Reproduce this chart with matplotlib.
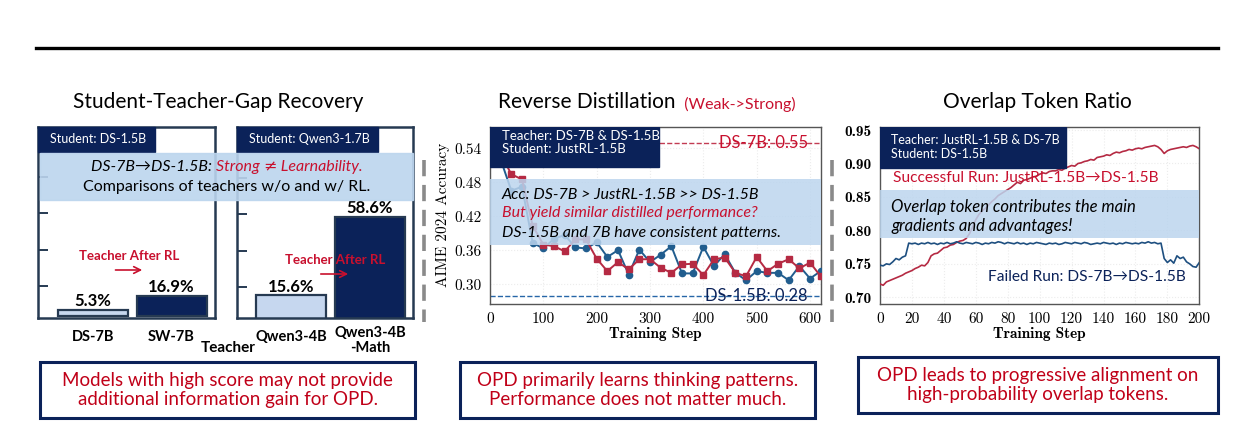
import matplotlib
matplotlib.use("Agg")
import matplotlib.pyplot as plt
from matplotlib.patches import Rectangle, FancyArrowPatch
from matplotlib.lines import Line2D
from matplotlib.text import Annotation

# ---------------- data ----------------
gap_teachers_left = ["DS-7B", "SW-7B"]
gap_values_left = [5.3, 16.9]
gap_teachers_right = ["Qwen3-4B", "Qwen3-4B\n-Math"]
gap_values_right = [15.6, 58.6]

rev_steps = [0, 20, 40, 60, 80, 100, 120, 140, 160, 180, 200, 220, 240, 260, 280, 300,
             320, 340, 360, 380, 400, 420, 440, 460, 480, 500, 520, 540, 560, 580, 600, 620]
rev_blue = [0.565, 0.52, 0.465, 0.472, 0.373, 0.363, 0.380, 0.387, 0.365, 0.363, 0.374, 0.348,
            0.360, 0.317, 0.361, 0.339, 0.352, 0.367, 0.319, 0.319, 0.366, 0.332, 0.353, 0.320,
            0.307, 0.323, 0.320, 0.320, 0.307, 0.332, 0.310, 0.323]
rev_red = [0.57, 0.53, 0.494, 0.485, 0.403, 0.370, 0.367, 0.358, 0.379, 0.379, 0.345, 0.323,
           0.339, 0.326, 0.344, 0.344, 0.329, 0.320, 0.335, 0.336, 0.316, 0.344, 0.347, 0.320,
           0.314, 0.348, 0.323, 0.336, 0.344, 0.328, 0.338, 0.314]
ds7b_ref = 0.55
ds15b_ref = 0.28

ov_steps = list(range(0, 201, 2))
ov_success = [0.720, 0.718, 0.723, 0.725, 0.727, 0.729, 0.731, 0.733, 0.736, 0.738,
              0.740, 0.743, 0.745, 0.748, 0.747, 0.752, 0.762, 0.765, 0.766, 0.770,
              0.774, 0.775, 0.778, 0.779, 0.782, 0.784, 0.785, 0.788, 0.795, 0.805,
              0.816, 0.824, 0.829, 0.833, 0.838, 0.843, 0.847, 0.852, 0.855, 0.858,
              0.861, 0.864, 0.868, 0.872, 0.870, 0.875, 0.876, 0.878, 0.880, 0.881,
              0.884, 0.886, 0.885, 0.888, 0.889, 0.889, 0.891, 0.890, 0.893, 0.895,
              0.897, 0.896, 0.900, 0.901, 0.903, 0.904, 0.906, 0.905, 0.909, 0.910,
              0.911, 0.913, 0.912, 0.915, 0.917, 0.916, 0.918, 0.919, 0.921, 0.920,
              0.922, 0.923, 0.922, 0.924, 0.925, 0.926, 0.927, 0.925, 0.921, 0.915,
              0.919, 0.921, 0.922, 0.923, 0.924, 0.925, 0.924, 0.926, 0.927, 0.925,
              0.922]
ov_failed = [0.748, 0.747, 0.750, 0.749, 0.753, 0.758, 0.756, 0.760, 0.762, 0.781,
             0.780, 0.781, 0.779, 0.781, 0.780, 0.782, 0.780, 0.781, 0.779, 0.781,
             0.780, 0.782, 0.780, 0.781, 0.783, 0.781, 0.780, 0.782, 0.781, 0.780,
             0.782, 0.781, 0.779, 0.781, 0.780, 0.782, 0.781, 0.783, 0.782, 0.780,
             0.782, 0.781, 0.780, 0.782, 0.780, 0.781, 0.779, 0.781, 0.780, 0.782,
             0.781, 0.780, 0.779, 0.781, 0.780, 0.781, 0.779, 0.780, 0.782, 0.781,
             0.780, 0.782, 0.781, 0.780, 0.782, 0.781, 0.779, 0.780, 0.781, 0.780,
             0.782, 0.781, 0.780, 0.781, 0.779, 0.781, 0.780, 0.782, 0.781, 0.780,
             0.781, 0.780, 0.782, 0.781, 0.783, 0.781, 0.782, 0.780, 0.781, 0.758,
             0.752, 0.756, 0.751, 0.762, 0.758, 0.760, 0.753, 0.750, 0.746, 0.745,
             0.752]

# ---------------- style ----------------
W, H = 1250, 440
NAVY = "#0b2259"
FRAME = "#263a52"
LIGHT = "#c6d7ef"
BAND = "#bcd5ee"
RED = "#c8102e"
BOX_RED = "#c00018"
BLUE_LINE = "#215d8e"
RED_LINE = "#b52a43"
SANS = ["Lato", "DejaVu Sans"]

plt.rcParams["font.family"] = SANS

fig = plt.figure(figsize=(W / 100, H / 100), dpi=100)


def fx(x):
    return x / W


def fy(y):
    return 1 - y / H


def add_ax(x0, y0, x1, y1):
    return fig.add_axes([fx(x0), fy(y1), (x1 - x0) / W, (y1 - y0) / H])


def chain(x, y, parts, zorder=4, **kw):
    """Draw text pieces one after another on a single line (figure pixel coords)."""
    txt, col, extra = parts[0]
    prev = fig.text(fx(x), fy(y), txt, ha="left", va="center", color=col, zorder=zorder,
                    **kw, **extra)
    for txt, col, extra in parts[1:]:
        a = Annotation(txt, xy=(1, 0), xycoords=prev, ha="left", va="bottom", color=col,
                       zorder=zorder, **kw, **extra)
        fig.add_artist(a)
        prev = a
    return prev


# top rule
fig.add_artist(Line2D([fx(36), fx(1218)], [fy(48.5), fy(48.5)], color="black", lw=2.4))

# separators
for sx in (424, 832):
    fig.add_artist(Line2D([fx(sx), fx(sx)], [fy(160), fy(322)], color="#8a8a8a",
                          lw=2.6, ls=(0, (4.5, 2.4))))

# ---------------- left panel ----------------
fig.text(fx(218), fy(102), "Student-Teacher-Gap Recovery", ha="center", va="center",
         fontsize=15, color="black")


def bar_axes(x0, x1, labels, vals, ylim, yticks, student):
    ax = add_ax(x0, 126.7, x1, 318.3)
    pos = list(range(len(vals)))
    ax.bar(pos, vals, width=0.886, color=[LIGHT, NAVY], edgecolor=FRAME, lw=1.6, zorder=2)
    ax.set_xlim(-0.69, 1.55)
    ax.set_ylim(*ylim)
    ax.set_yticks(yticks)
    ax.set_yticklabels([])
    ax.set_xticks([])
    ax.tick_params(axis="y", direction="in", length=7, width=1.4, color=FRAME)
    for s in ax.spines.values():
        s.set_color(FRAME)
        s.set_linewidth(1.8)
    for p, v in zip(pos, vals):
        ax.annotate(f"{v}%", (p, v), xytext=(0, 0.5), textcoords="offset points",
                    ha="center", va="bottom", fontsize=12, fontweight="bold", color="black")
    for p, lab in zip(pos, labels):
        yy = -0.096 if "\n" not in lab else -0.115
        ax.text(p, yy, lab, transform=ax.get_xaxis_transform(), ha="center", va="center",
                fontsize=10.5, fontweight="bold", linespacing=1.05)
    frac = (student[1] - x0) / (x1 - x0)
    ax.add_patch(Rectangle((0, 0.87), frac, 0.13, transform=ax.transAxes, color=NAVY,
                           zorder=5, clip_on=False))
    ax.text(12 / (x1 - x0), 0.935, student[0], transform=ax.transAxes, color="white",
            fontsize=9, va="center", ha="left", zorder=6)
    return ax


axL1 = bar_axes(38.3, 215, gap_teachers_left, gap_values_left, (-2, 157), [25, 55, 85, 115],
                ("Student: DS-1.5B", 155))
axL2 = bar_axes(236.7, 413.3, gap_teachers_right, gap_values_right, (3, 108), [20, 40, 60, 80],
                ("Student: Qwen3-1.7B", 378.3))

fig.text(fx(228), fy(348), "Teacher", ha="center", va="center", fontsize=11,
         fontweight="bold")

# teacher after RL notes
for tx, ty, ax0, ax1, ay in [(129, 256, 112.7, 145, 270), (335, 260, 318, 351, 274)]:
    fig.text(fx(tx), fy(ty), "Teacher After RL", ha="center", va="center", fontsize=9.5,
             fontweight="bold", color=RED, zorder=4)
    fig.add_artist(FancyArrowPatch((fx(ax0), fy(ay)), (fx(ax1), fy(ay)),
                                   transform=fig.transFigure, arrowstyle="->",
                                   mutation_scale=12, color=RED, lw=1.2))

# band
fig.add_artist(Rectangle((fx(40), fy(200)), (412.7 - 40) / W, (200 - 152.7) / H,
                         transform=fig.transFigure, color=BAND, alpha=0.9, zorder=3))
chain(91, 167.3, [("DS-7B\u2192DS-1.5B: ", "black", {}),
                  ("Strong ", RED, {}),
                  ("\u2260", RED, {"family": "DejaVu Sans"}),
                  (" Learnability.", RED, {})],
      fontsize=11.5, style="italic")
fig.text(fx(227), fy(186.7), "Comparisons of teachers w/o and w/ RL.", ha="center",
         va="center", fontsize=11.5, color="black", zorder=4)

# ---------------- middle panel ----------------
axM = add_ax(490, 126.7, 820.7, 304)
axM.plot(rev_steps, rev_blue, color=BLUE_LINE, marker="o", ms=4.5, lw=1.4, zorder=3)
axM.plot(rev_steps, rev_red, color=RED_LINE, marker="s", ms=4.5, lw=1.4, zorder=3)
axM.axhline(ds7b_ref, color="#c23b52", ls="--", lw=1.0, zorder=2)
axM.axhline(ds15b_ref, color="#2766a8", ls="--", lw=1.0, zorder=2)
axM.set_xlim(0, 620)
axM.set_ylim(0.265, 0.578)
axM.set_xticks([0, 100, 200, 300, 400, 500, 600])
axM.set_yticks([0.30, 0.36, 0.42, 0.48, 0.54])
axM.set_yticklabels(["0.30", "0.36", "0.42", "0.48", "0.54"])
axM.grid(True, color="#ececec", lw=0.8, ls=":")
axM.set_axisbelow(True)
axM.tick_params(length=0, pad=6, labelsize=11)
for lab in axM.get_xticklabels() + axM.get_yticklabels():
    lab.set_fontfamily("cmr10")
for s in axM.spines.values():
    s.set_color("#555555")
    s.set_linewidth(1.0)
axM.set_xlabel("Training Step", fontfamily="cmb10", fontsize=11, labelpad=1)
axM.set_ylabel("AIME 2024 Accuracy", fontfamily="cmr10", fontsize=11, labelpad=3)
axM.axhspan(0.370, 0.486, color=BAND, alpha=0.85, zorder=5, lw=0)
axM.add_patch(Rectangle((0, 0.771), 0.511, 0.229, transform=axM.transAxes, color=NAVY,
                        zorder=7))
axM.text(0.035, 0.91, "Teacher: DS-7B & DS-1.5B\nStudent: JustRL-1.5B",
         transform=axM.transAxes, color="white", fontsize=9.5, va="center", ha="left",
         linespacing=1.15, zorder=8)
axM.text(596, ds7b_ref, "DS-7B: 0.55", color="#c8102e", fontsize=12, ha="right",
         va="center", zorder=4)
axM.text(596, ds15b_ref, "DS-1.5B: 0.28", color=NAVY, fontsize=12, ha="right",
         va="center", zorder=4)
mx = 501.7
fig.text(fx(mx), fy(195), "Acc: DS-7B > JustRL-1.5B >> DS-1.5B", ha="left", va="center",
         fontsize=11.5, style="italic", color="black", zorder=9)
fig.text(fx(mx), fy(213.3), "But yield similar distilled performance?", ha="left",
         va="center", fontsize=11.5, style="italic", color=RED, zorder=9)
fig.text(fx(mx), fy(232.7), "DS-1.5B and 7B have consistent patterns.", ha="left",
         va="center", fontsize=11.5, style="italic", color="black", zorder=9)

chain(498, 102, [("Reverse Distillation", "black", {"fontsize": 15}),
                 ("  (Weak->Strong)", RED, {"fontsize": 11.5})], zorder=4)

# ---------------- right panel ----------------
axR = add_ax(880, 126.7, 1199.3, 304)
axR.plot(ov_steps, ov_success, color=RED_LINE, lw=1.2, zorder=3)
axR.plot(ov_steps, ov_failed, color="#1e4f80", lw=1.2, zorder=3)
axR.set_xlim(0, 200)
axR.set_ylim(0.69, 0.955)
axR.set_xticks(list(range(0, 201, 20)))
axR.set_yticks([0.70, 0.75, 0.80, 0.85, 0.90, 0.95])
axR.set_yticklabels(["0.70", "0.75", "0.80", "0.85", "0.90", "0.95"])
axR.grid(True, color="#ececec", lw=0.8, ls=":")
axR.set_axisbelow(True)
axR.tick_params(length=0, pad=6, labelsize=11)
for lab in axR.get_xticklabels():
    lab.set_fontfamily("cmr10")
for lab in axR.get_yticklabels():
    lab.set_fontfamily("cmb10")
for s in axR.spines.values():
    s.set_color("#555555")
    s.set_linewidth(1.0)
axR.set_xlabel("Training Step", fontfamily="cmb10", fontsize=11, labelpad=1)
axR.axhspan(0.789, 0.860, color=BAND, alpha=0.85, zorder=5, lw=0)
axR.add_patch(Rectangle((0, 0.765), 0.5825, 0.235, transform=axR.transAxes, color=NAVY,
                        zorder=7))
axR.text(0.035, 0.885, "Teacher: JustRL-1.5B & DS-7B\nStudent: DS-1.5B",
         transform=axR.transAxes, color="white", fontsize=9, va="center", ha="left",
         linespacing=1.2, zorder=8)
fig.text(fx(893.3), fy(178.3), "Successful Run: JustRL-1.5B\u2192DS-1.5B", ha="left",
         va="center", fontsize=11.2, color=RED, zorder=9)
fig.text(fx(988), fy(276.7), "Failed Run: DS-7B\u2192DS-1.5B", ha="left", va="center",
         fontsize=11.2, color=NAVY, zorder=9)
fig.text(fx(891), fy(206.7), "Overlap token contributes the main", ha="left", va="center",
         fontsize=12, style="italic", color="black", zorder=9)
fig.text(fx(891), fy(225.7), "gradients and advantages!", ha="left", va="center",
         fontsize=12, style="italic", color="black", zorder=9)
fig.text(fx(1037.5), fy(102), "Overlap Token Ratio", ha="center", va="center",
         fontsize=15, color="black")

# ---------------- bottom boxes ----------------
boxes = [
    (40, 362, 415, 418, "Models with high score may not provide\nadditional information gain for OPD."),
    (460, 362, 815, 418, "OPD primarily learns thinking patterns.\nPerformance does not matter much."),
    (858, 357, 1218, 413, "OPD leads to progressive alignment on\nhigh-probability overlap tokens."),
]
for x0, y0, x1, y1, txt in boxes:
    fig.add_artist(Rectangle((fx(x0 + 2), fy(y1 + 2)), (x1 - x0) / W, (y1 - y0) / H,
                             transform=fig.transFigure, facecolor="#a9b4c6",
                             edgecolor="none", zorder=1))
    fig.add_artist(Rectangle((fx(x0), fy(y1)), (x1 - x0) / W, (y1 - y0) / H,
                             transform=fig.transFigure, facecolor="white",
                             edgecolor=NAVY, lw=2.2, zorder=2))
    fig.text(fx((x0 + x1) / 2), fy((y0 + y1) / 2), txt, ha="center", va="center",
             fontsize=13.5, color=BOX_RED, linespacing=1.1, zorder=3)

fig.savefig("out.png", dpi=100)
